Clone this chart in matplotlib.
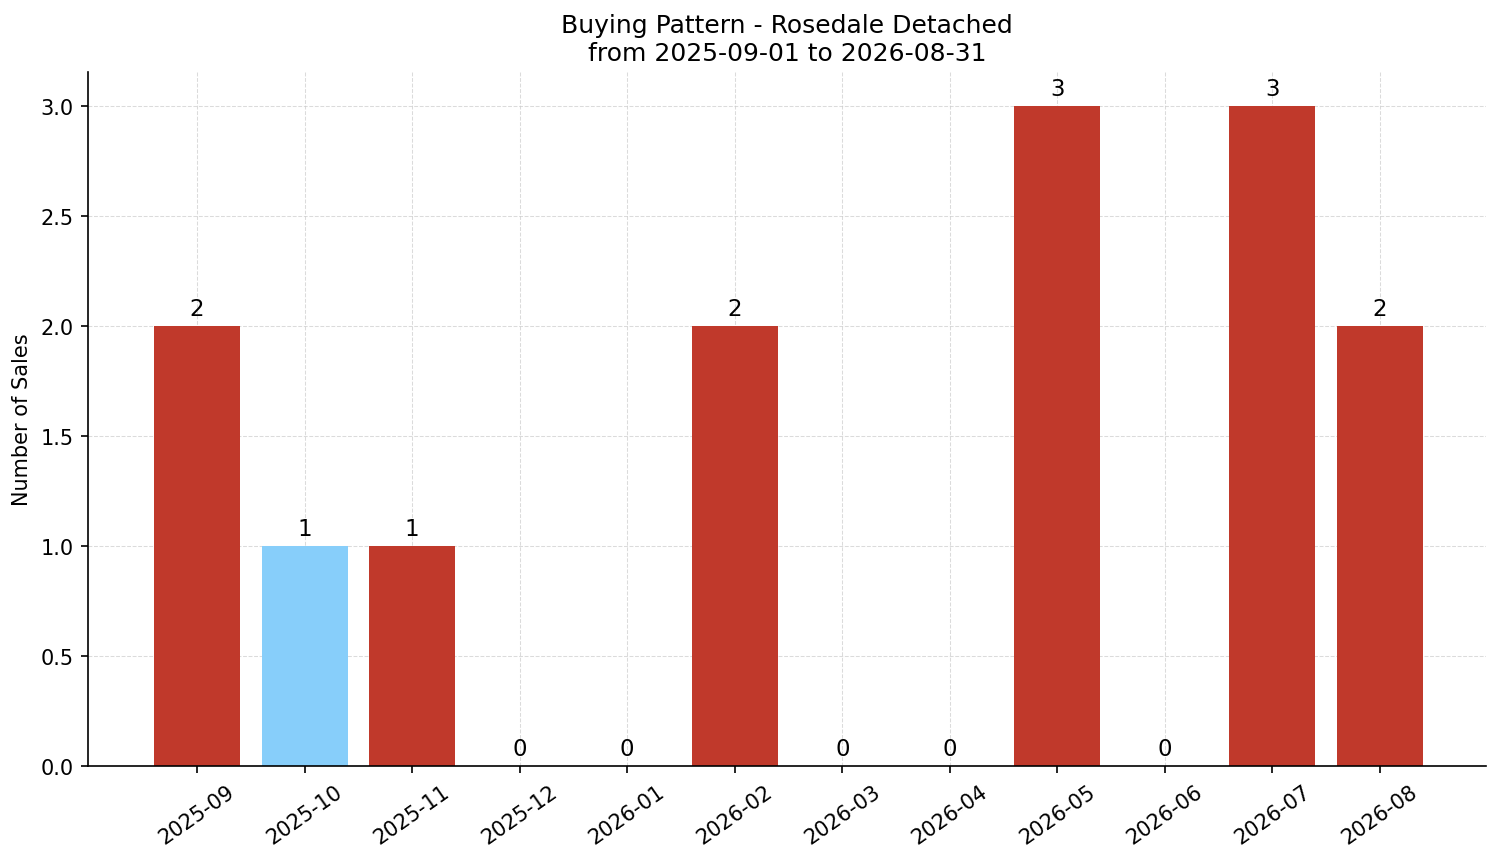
import matplotlib.pyplot as plt
import numpy as np

# Daten
monate = ['2025-09', '2025-10', '2025-11', '2025-12', '2026-01', '2026-02',
          '2026-03', '2026-04', '2026-05', '2026-06', '2026-07', '2026-08']
verkaeufe = [2, 1, 1, 0, 0, 2, 0, 0, 3, 0, 3, 2]
hervorgehoben = '2025-10'

farben = ['#87cefa' if m == hervorgehoben else '#c0392b' for m in monate]

fig, ax = plt.subplots(figsize=(10.0067, 5.7533), dpi=150)
x = np.arange(len(monate))
bars = ax.bar(x, verkaeufe, color=farben, width=0.8, zorder=2)

for b, v in zip(bars, verkaeufe):
    ax.annotate(f'{v}', (b.get_x() + b.get_width() / 2, v),
                xytext=(0, 3), textcoords='offset points',
                ha='center', va='bottom', fontsize=11)

ax.set_xticks(x)
ax.set_xticklabels(monate, rotation=35)
ax.set_ylabel('Number of Sales')
ax.set_title('Buying Pattern - Rosedale Detached\nfrom 2025-09-01 to 2026-08-31', fontsize=12)
ax.set_ylim(0, 3.155)
ax.set_xlim(-1.014, 11.986)
ax.grid(True, linestyle='--', color='#cccccc', alpha=0.7, linewidth=0.5, zorder=0)
ax.spines['top'].set_visible(False)
ax.spines['right'].set_visible(False)

fig.subplots_adjust(left=0.0586, right=0.990, top=0.9154, bottom=0.1112)
plt.savefig('out.png', dpi=150)
